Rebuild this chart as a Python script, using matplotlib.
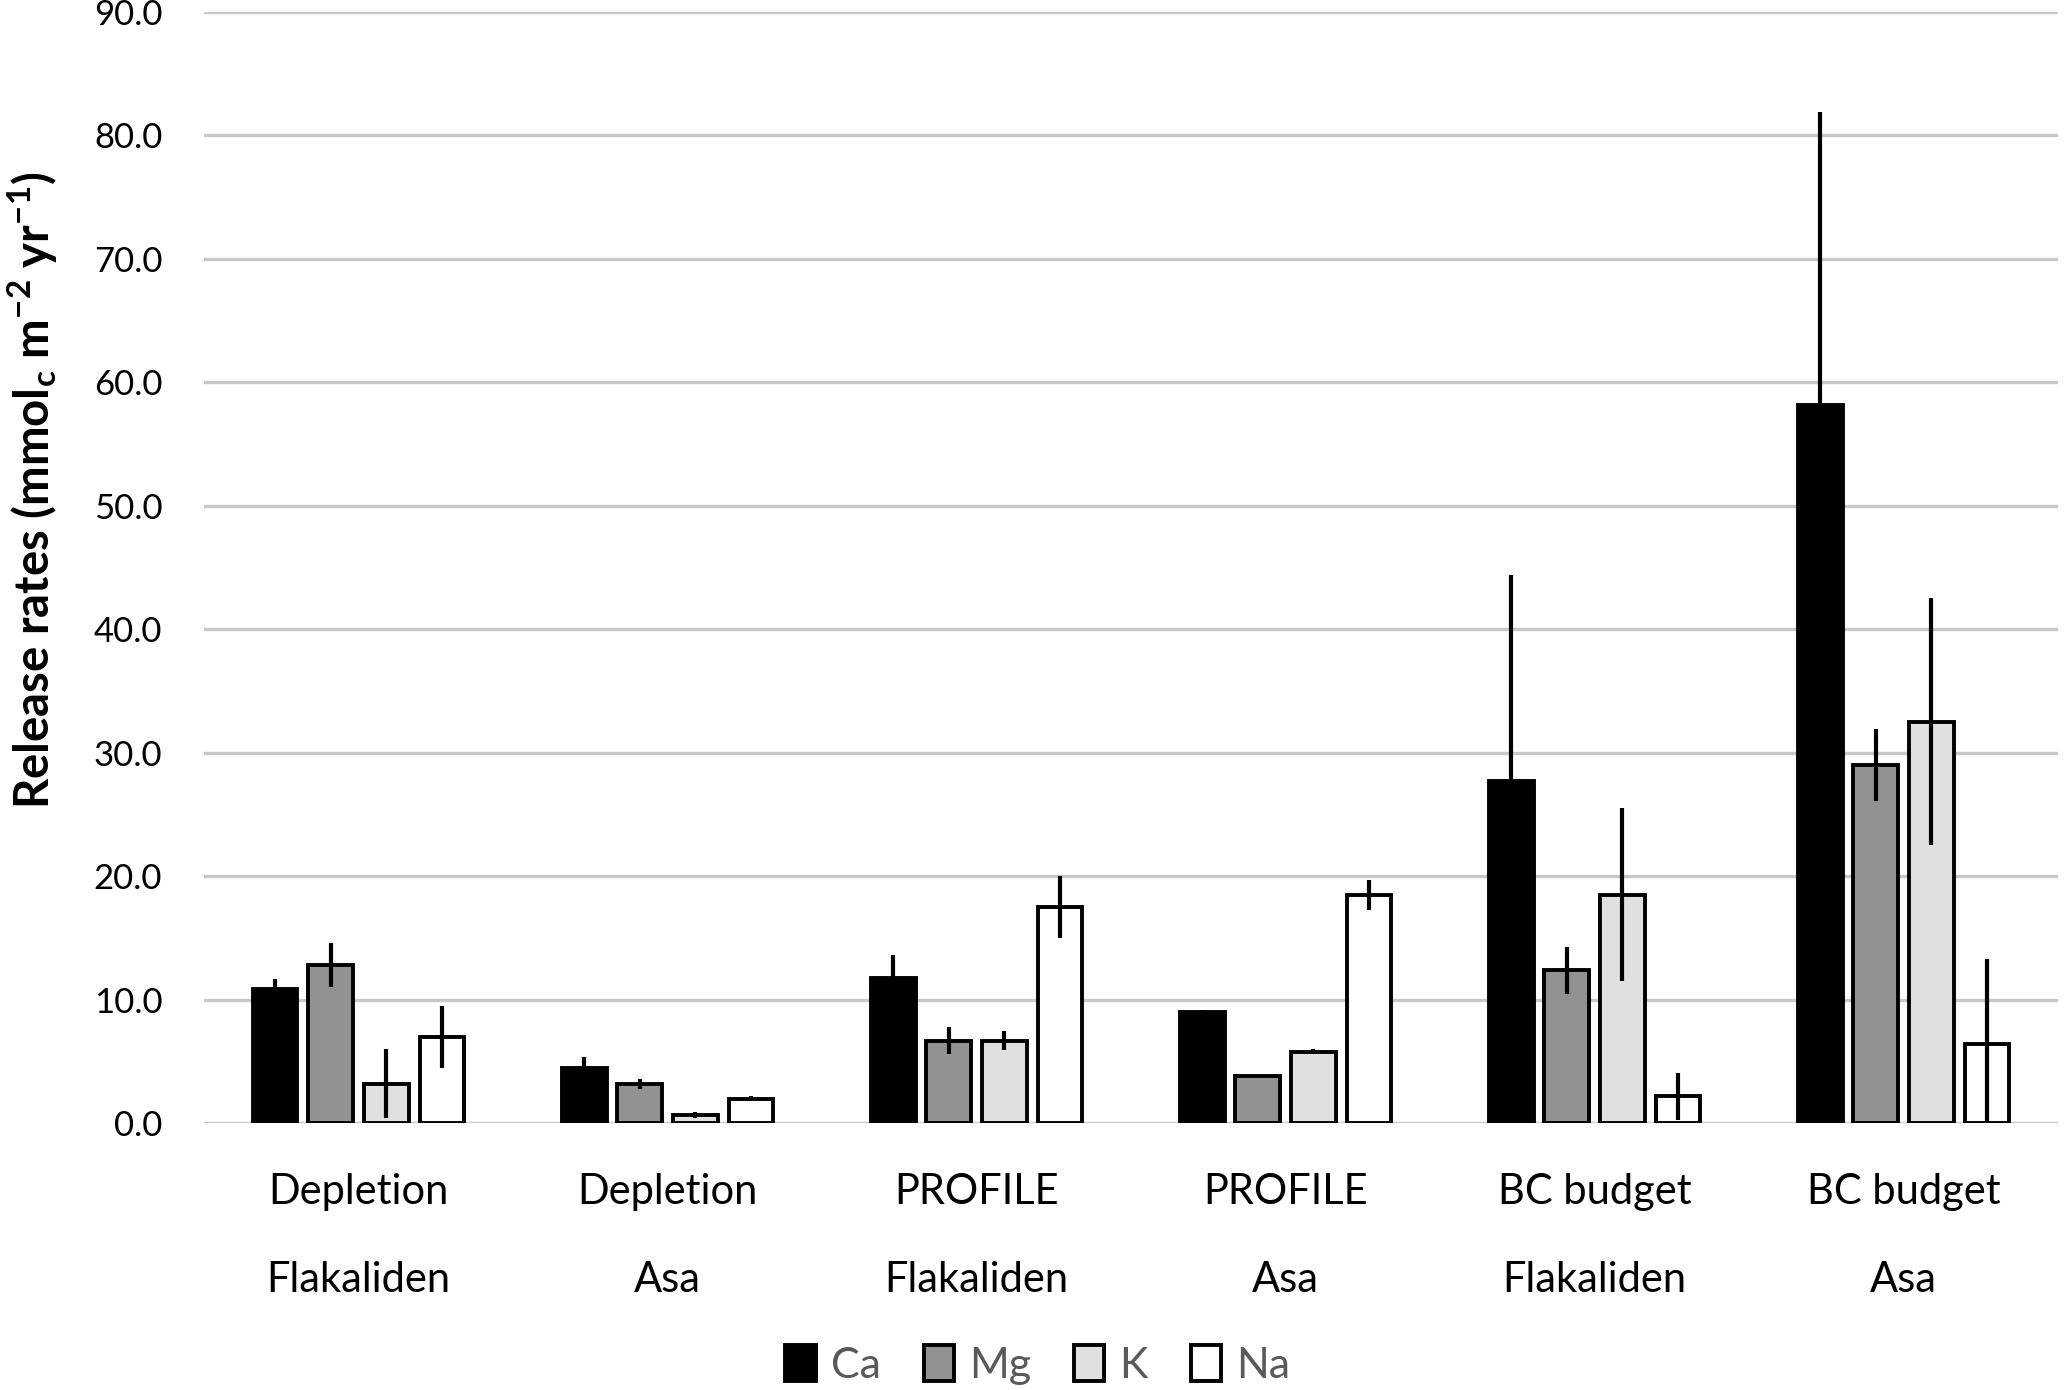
import matplotlib
matplotlib.use("Agg")
import matplotlib.pyplot as plt
from matplotlib.patches import Patch
import numpy as np

plt.rcParams["font.family"] = ["Lato", "DejaVu Sans"]
plt.rcParams["mathtext.fontset"] = "custom"
plt.rcParams["mathtext.rm"] = "Lato"
plt.rcParams["mathtext.bf"] = "Lato:bold"

# ---- data ----
categories = ["Depletion\nFlakaliden", "Depletion\nAsa", "PROFILE\nFlakaliden",
              "PROFILE\nAsa", "BC budget\nFlakaliden", "BC budget\nAsa"]
series = ["Ca", "Mg", "K", "Na"]

ca = [10.9, 4.5, 11.8, 9.0, 27.7, 58.2]
ca_err = [0.8, 0.85, 1.8, 0.2, 16.7, 23.7]
mg = [12.8, 3.2, 6.7, 3.8, 12.4, 29.0]
mg_err = [1.8, 0.4, 1.1, 0.05, 1.9, 2.9]
k = [3.2, 0.7, 6.7, 5.8, 18.5, 32.5]
k_err = [2.8, 0.25, 0.8, 0.2, 7.0, 10.0]
na = [7.0, 2.0, 17.5, 18.5, 2.2, 6.4]
na_err = [2.5, 0.2, 2.5, 1.2, 1.9, 6.9]

colors = ["#000000", "#929292", "#e0e0e0", "#ffffff"]
yticks = np.arange(0, 91, 10)


def main():
    fig = plt.figure(figsize=(20.67, 13.9), dpi=100)
    ax = fig.add_axes([0.0987, 0.1919, 0.897, 0.7995])

    x = np.arange(len(categories))
    pitch = 0.18
    width = 0.145
    values = [ca, mg, k, na]
    errors = [ca_err, mg_err, k_err, na_err]

    for j, (name, vals, errs, col) in enumerate(zip(series, values, errors, colors)):
        pos = x + (j - 1.5) * pitch
        ax.bar(pos, vals, width=width, color=col, edgecolor="black",
               linewidth=2.8, zorder=2, label=name)
        ax.errorbar(pos, vals, yerr=errs, fmt="none", ecolor="black",
                    elinewidth=3.0, capsize=0, zorder=3)

    ax.set_xlim(-0.5, len(categories) - 0.5)
    ax.set_ylim(0, 90)
    ax.set_yticks(yticks)
    ax.set_yticklabels([f"{v:.1f}" for v in yticks], fontsize=25)
    ax.yaxis.grid(True, color="#c8c8c8", linewidth=2.4, zorder=0)
    ax.set_axisbelow(True)

    ax.set_xticks(x)
    ax.set_xticklabels(categories, fontsize=30)
    for lbl in ax.get_xticklabels():
        lbl.set_linespacing(2.6)
    ax.tick_params(axis="both", length=0)
    ax.tick_params(axis="y", pad=30)
    ax.tick_params(axis="x", pad=36)

    for sp in ax.spines.values():
        sp.set_visible(False)

    ax.set_ylabel(r"Release rates (mmol$_\mathbf{c}$ m$^\mathbf{-2}$ yr$^\mathbf{-1}$)",
                  fontsize=34, fontweight="bold", va="center")
    ax.yaxis.set_label_coords(-0.093, 0.57)

    handles = [Patch(facecolor=c, edgecolor="black", linewidth=2.8) for c in colors]
    leg = fig.legend(handles, series, loc="center", bbox_to_anchor=(0.502, 0.018),
                     ncol=4, frameon=False, fontsize=31, handlelength=0.7,
                     handleheight=0.9, handletextpad=0.35, columnspacing=1.0)
    for t in leg.get_texts():
        t.set_color("#595959")

    fig.savefig("out.png", dpi=100)
    plt.close(fig)


if __name__ == "__main__":
    main()
